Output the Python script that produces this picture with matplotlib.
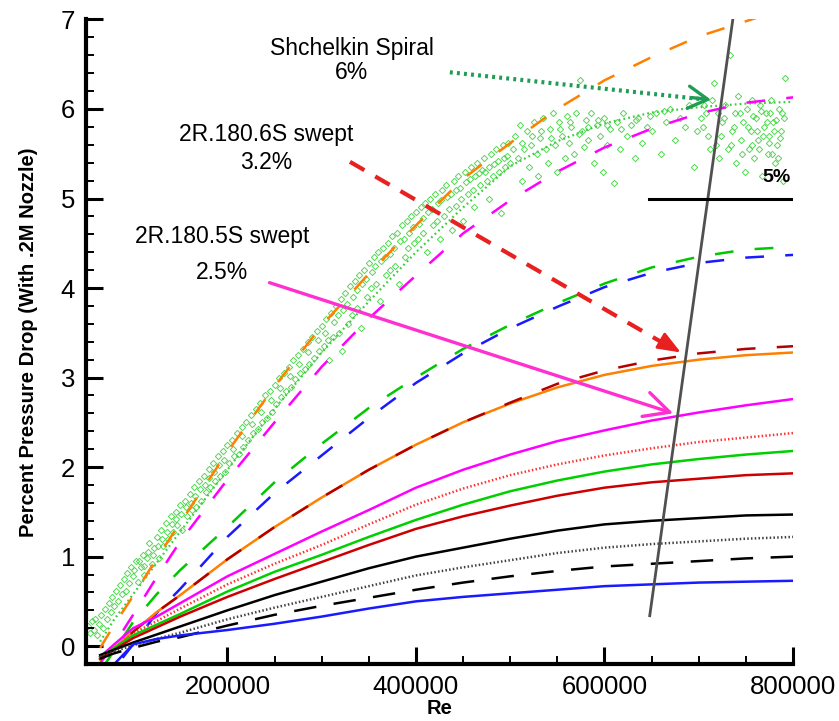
import numpy as np
import matplotlib
matplotlib.use('Agg')
import matplotlib.pyplot as plt
from matplotlib.ticker import MultipleLocator

plt.rcParams['font.family'] = ['Liberation Sans', 'DejaVu Sans']

re_pts = [65000, 80000, 100000, 125000, 150000, 200000, 250000, 300000, 350000,
          400000, 450000, 500000, 550000, 600000, 650000, 700000, 750000, 800000]

# solid / dotted curves (percent pressure drop)
orange_solid = [-0.15, -0.02, 0.16, 0.38, 0.57, 0.97, 1.33, 1.66, 1.97, 2.25, 2.50, 2.71, 2.89, 3.03, 3.13, 3.20, 3.25, 3.28]
darkred_dash = [-0.15, -0.02, 0.16, 0.38, 0.57, 0.97, 1.33, 1.66, 1.97, 2.25, 2.50, 2.72, 2.93, 3.08, 3.19, 3.27, 3.32, 3.35]
magenta_solid = [-0.12, 0.02, 0.20, 0.33, 0.48, 0.78, 1.03, 1.28, 1.52, 1.77, 1.97, 2.14, 2.29, 2.41, 2.52, 2.61, 2.69, 2.76]
red_dotted = [-0.12, -0.02, 0.14, 0.28, 0.42, 0.69, 0.92, 1.13, 1.36, 1.58, 1.76, 1.91, 2.03, 2.13, 2.21, 2.28, 2.33, 2.38]
green_solid = [-0.12, -0.02, 0.12, 0.24, 0.36, 0.61, 0.83, 1.02, 1.22, 1.41, 1.58, 1.73, 1.85, 1.95, 2.03, 2.09, 2.14, 2.18]
red_solid = [-0.14, -0.04, 0.09, 0.21, 0.33, 0.55, 0.75, 0.94, 1.13, 1.31, 1.45, 1.57, 1.68, 1.77, 1.83, 1.87, 1.91, 1.93]
black_solid = [-0.10, -0.04, 0.04, 0.13, 0.22, 0.40, 0.57, 0.72, 0.87, 1.00, 1.10, 1.20, 1.29, 1.36, 1.40, 1.43, 1.46, 1.47]
gray_dotted = [-0.12, -0.06, 0.01, 0.08, 0.15, 0.30, 0.43, 0.55, 0.67, 0.79, 0.88, 0.96, 1.04, 1.10, 1.14, 1.17, 1.20, 1.22]
black_dash = [-0.14, -0.08, -0.02, 0.05, 0.10, 0.23, 0.35, 0.45, 0.54, 0.63, 0.71, 0.78, 0.84, 0.89, 0.92, 0.95, 0.98, 1.00]
blue_solid = [-0.45, -0.20, 0.02, 0.08, 0.12, 0.18, 0.25, 0.33, 0.42, 0.50, 0.55, 0.59, 0.63, 0.67, 0.69, 0.71, 0.72, 0.73]

# upper dashed curves
orange_dash = [-0.02, 0.24, 0.56, 0.98, 1.38, 2.17, 2.90, 3.58, 4.16, 4.70, 5.22, 5.62, 6.00, 6.32, 6.58, 6.81, 6.98, 7.15]
magenta_dash = [-0.19, 0.02, 0.35, 0.77, 1.17, 1.86, 2.50, 3.12, 3.66, 4.14, 4.61, 4.98, 5.30, 5.57, 5.78, 5.95, 6.07, 6.13]
green_dash = [-0.28, -0.05, 0.27, 0.58, 0.85, 1.33, 1.83, 2.26, 2.66, 3.00, 3.32, 3.59, 3.83, 4.05, 4.23, 4.35, 4.43, 4.46]
blue_dash = [-0.50, -0.25, 0.02, 0.37, 0.64, 1.22, 1.71, 2.13, 2.55, 2.94, 3.27, 3.55, 3.79, 4.01, 4.17, 4.28, 4.34, 4.37]
spiral_fit = [0.05, 0.30, 0.58, 0.93, 1.28, 1.97, 2.65, 3.28, 3.85, 4.40, 4.90, 5.36, 5.64, 5.84, 5.96, 6.02, 6.06, 6.08]

# Shchelkin spiral measurements (Re in thousands, percent drop)
spiral_re_k = [52, 54, 56, 58, 60, 62, 64, 66, 68, 70, 72, 74, 76, 78, 80, 82, 84, 86, 88, 90, 92, 94, 96, 98, 100,
               103, 105, 108, 110, 112, 115, 117, 120, 122, 125, 127, 130, 132, 135, 137, 140, 142, 145, 147, 150,
               152, 155, 157, 160, 162, 165, 167, 170, 172, 175, 177, 180, 182, 185, 187, 190, 192, 195, 197, 200,
               202, 205, 207, 210, 212, 215, 217, 220, 222, 225, 227, 230, 232, 235, 237, 240, 242, 245, 247, 250,
               252, 255, 257, 260, 262, 265, 267, 270, 272, 275, 277, 280, 282, 285, 287, 290, 292, 295, 297, 300,
               302, 305, 308, 310, 312, 315, 318, 320, 322, 325, 328, 330, 332, 335, 338, 340, 342, 345, 348, 350,
               352, 355, 358, 360, 362, 365, 368, 370, 372, 375, 378, 380, 382, 385, 388, 390, 392, 395, 398, 400,
               402, 405, 408, 410, 412, 415, 418, 420, 422, 425, 428, 430, 432, 435, 438, 440, 442, 445, 448, 450,
               452, 455, 458, 460, 462, 465, 468, 470, 472, 475, 478, 480, 482, 485, 488, 490, 492, 495, 498, 500,
               505, 508, 510, 512, 515, 518, 520, 522, 525, 528, 530, 532, 535, 538, 540, 542, 545, 548, 550, 552,
               555, 558, 560, 562, 565, 568, 570, 574, 576, 578, 580, 583, 586, 589, 592, 595, 598, 600, 603, 606,
               610, 613, 616, 620, 624, 628, 632, 636, 640, 645, 650, 655, 660, 665, 670, 675, 680, 685, 690, 695,
               698, 702, 706, 710, 714, 716, 718, 720, 722, 725, 728, 731, 733, 735, 738, 740, 742, 745, 747, 749,
               751, 753, 755, 757, 759, 761, 763, 765, 767, 769, 771, 773, 775, 777, 779, 781, 783, 785, 787, 789,
               790, 792,
               101, 106, 111, 116, 121, 126, 131, 136, 141, 146, 151, 156, 161, 166, 171, 176, 181, 186, 191, 196,
               206, 216, 226, 236, 246, 256, 266, 276, 286, 296,
               303, 307, 313, 317, 323, 327, 333, 337, 343, 347, 353, 357, 363, 367, 373, 377, 383, 387, 393, 397,
               403, 407, 413, 417, 423, 427, 433, 437, 443, 447, 453, 457, 463, 467, 473, 477, 483, 487, 493, 497,
               503, 513, 523, 533, 543, 553, 563, 573, 583, 593, 603, 618, 633, 648, 663,
               704, 708, 712, 724, 727, 734, 737, 744, 746, 752, 756, 758, 762, 764, 766, 768, 772, 774, 776, 778,
               780, 782, 784, 786, 788]
spiral_dp = [0.22, 0.15, 0.28, 0.18, 0.30, 0.12, 0.25, 0.35, 0.20, 0.42, 0.30, 0.48, 0.38, 0.55, 0.45, 0.62, 0.50, 0.68, 0.58, 0.75, 0.62, 0.82, 0.70, 0.88, 0.78,
             0.95, 0.72, 0.88, 1.02, 0.80, 0.98, 1.15, 0.92, 1.10, 1.22, 0.98, 1.30, 1.12, 1.38, 1.20, 1.45, 1.28, 1.50, 1.35, 1.58,
             1.30, 1.62, 1.45, 1.70, 1.52, 1.78, 1.55, 1.85, 1.62, 1.90, 1.72, 1.98, 1.78, 2.05, 1.85, 2.12, 1.90, 2.18, 1.95, 2.25,
             2.05, 2.30, 2.12, 2.38, 2.15, 2.45, 2.22, 2.50, 2.30, 2.58, 2.38, 2.65, 2.42, 2.72, 2.50, 2.80, 2.55, 2.85, 2.62, 2.92,
             2.70, 3.00, 2.78, 3.05, 2.85, 3.12, 2.90, 3.20, 2.98, 3.25, 3.05, 3.32, 3.10, 3.40, 3.15, 3.45, 3.22, 3.52, 3.30, 3.58,
             3.35, 3.65, 3.20, 3.72, 3.45, 3.80, 3.50, 3.88, 3.30, 3.95, 3.60, 4.02, 3.70, 4.08, 3.78, 4.15, 3.55, 4.20, 3.90, 4.28,
             4.00, 4.35, 4.05, 4.40, 3.85, 4.45, 4.15, 4.50, 4.20, 4.58, 4.25, 4.62, 4.05, 4.70, 4.35, 4.75, 4.45, 4.80, 4.50, 4.85,
             4.55, 4.90, 4.62, 4.95, 4.40, 5.00, 4.70, 5.05, 4.75, 4.55, 5.10, 4.80, 5.15, 4.88, 4.65, 5.20, 4.92, 5.25, 5.00, 4.75,
             5.30, 5.05, 5.35, 5.10, 4.90, 5.40, 5.15, 5.32, 5.45, 5.20, 5.00, 5.50, 5.25, 5.55, 5.30, 4.84, 5.60, 5.35, 5.62, 5.40,
             5.70, 5.45, 5.82, 5.20, 5.55, 5.75, 5.35, 5.60, 5.85, 5.50, 5.25, 5.68, 5.90, 5.55, 5.40, 5.78, 5.95, 5.60, 5.30, 5.85,
             5.70, 5.45, 5.92, 5.62, 5.80, 5.50, 5.95, 6.32, 5.75, 5.58, 5.88, 5.65, 5.95, 5.40, 5.82, 5.70, 5.30, 5.90, 5.60, 5.78,
             5.17, 5.85, 5.55, 5.95, 5.70, 5.82, 5.45, 5.90, 5.62, 5.80, 5.75, 5.95, 5.50, 5.85, 6.00, 5.65, 5.90, 5.80, 6.05, 5.35,
             5.75, 5.90, 6.05, 5.70, 6.10, 6.29, 5.60, 5.95, 5.45, 5.85, 6.05, 5.55, 6.60, 5.75, 5.95, 5.40, 6.15, 5.65, 5.85, 5.30,
             6.00, 5.55, 5.75, 6.10, 5.45, 5.90, 5.65, 6.05, 5.25, 5.80, 5.95, 5.50, 5.70, 6.10, 5.85, 5.40, 5.60, 6.00, 5.75, 5.20,
             5.90, 6.35,
             0.85, 0.95, 0.90, 1.05, 1.02, 1.12, 1.20, 1.28, 1.36, 1.42, 1.48, 1.55, 1.60, 1.68, 1.75, 1.80, 1.88, 1.95, 2.02, 2.08,
             2.20, 2.35, 2.48, 2.62, 2.75, 2.88, 3.02, 3.15, 3.28, 3.42,
             3.50, 3.42, 3.62, 3.70, 3.75, 3.82, 3.90, 3.98, 4.05, 4.10, 4.18, 4.25, 4.30, 4.35, 4.38, 4.45, 4.52, 4.55, 4.62, 4.68,
             4.72, 4.78, 4.85, 4.88, 4.95, 4.98, 5.02, 5.05, 5.10, 5.12, 5.18, 5.22, 5.25, 5.28, 5.30, 5.35, 5.38, 5.42, 5.45, 5.48,
             5.55, 5.62, 5.70, 5.75, 5.68, 5.78, 5.85, 5.72, 5.80, 5.88, 5.82, 5.78, 5.88, 5.92, 5.98,
             5.80, 5.95, 5.55, 5.70, 5.90, 5.60, 5.80, 5.95, 5.50, 5.80, 5.60, 5.92, 5.75, 5.55, 5.98, 5.70, 5.85, 5.62, 5.95, 5.50,
             5.75, 5.88, 5.45, 5.68, 5.95]

spiral_re = np.array(spiral_re_k) * 1000

fig = plt.figure(figsize=(8.39, 7.21), dpi=100)
ax = fig.add_axes([0.1025, 0.079, 0.8427, 0.894])

lw = 1.8
longdash = (0, (7.5, 8.5))
fine_dot = (0, (0.6, 0.9))

ax.plot(spiral_re, spiral_dp, linestyle='none', marker='D', markersize=3.2,
        markerfacecolor='none', markeredgecolor='#55d855', markeredgewidth=0.7, zorder=1)
ax.plot(re_pts, spiral_fit, color='#3ccc3c', lw=1.6, linestyle=(0, (0.8, 1.4)), zorder=2)

ax.plot(re_pts, orange_dash, color='#ff8000', lw=lw, linestyle=longdash)
ax.plot(re_pts, magenta_dash, color='#ff00ff', lw=lw, linestyle=longdash)
ax.plot(re_pts, green_dash, color='#00c800', lw=lw, linestyle=longdash)
ax.plot(re_pts, blue_dash, color='#1a1aff', lw=lw, linestyle=longdash)

ax.plot(re_pts, orange_solid, color='#ff8000', lw=lw)
ax.plot(re_pts, darkred_dash, color='#b40000', lw=lw, linestyle=longdash)
ax.plot(re_pts, magenta_solid, color='#ff00ff', lw=lw)
ax.plot(re_pts, red_dotted, color='#ff3030', lw=lw, linestyle=fine_dot)
ax.plot(re_pts, green_solid, color='#00d000', lw=lw)
ax.plot(re_pts, red_solid, color='#cc0000', lw=lw)
ax.plot(re_pts, black_solid, color='black', lw=lw)
ax.plot(re_pts, gray_dotted, color='#404040', lw=lw, linestyle=fine_dot)
ax.plot(re_pts, black_dash, color='black', lw=lw, linestyle=(0, (9, 7)))
ax.plot(re_pts, blue_solid, color='#1a1aff', lw=lw)

# 5% reference marks
ax.plot([736000, 648000], [6.99, 0.34], color='#505050', lw=2.0, zorder=5)
ax.plot([647000, 800000], [5.0, 5.0], color='black', lw=2.2, zorder=5)
ax.text(782000, 5.24, '5%', ha='center', va='center', fontsize=14, fontweight='bold')

# labels with arrows
tsize = 16.5
ax.text(332000, 6.68, 'Shchelkin Spiral', ha='center', va='center', fontsize=tsize)
ax.text(332000, 6.41, '6%', ha='center', va='center', fontsize=tsize)
ax.text(241500, 5.71, '2R.180.6S swept', ha='center', va='center', fontsize=tsize)
ax.text(241500, 5.40, '3.2%', ha='center', va='center', fontsize=tsize)
ax.text(194700, 4.58, '2R.180.5S swept', ha='center', va='center', fontsize=tsize)
ax.text(194700, 4.17, '2.5%', ha='center', va='center', fontsize=tsize)

# green dotted arrow
ax.plot([436000, 712000], [6.41, 6.10], color='#1f9d55', lw=3.0, linestyle=(0, (0.7, 1.0)), zorder=6)
ax.annotate('', xy=(716000, 6.10), xytext=(690000, 6.13),
            arrowprops=dict(arrowstyle='->,head_length=0.7,head_width=0.4', color='#1f9d55', lw=2.4,
                            mutation_scale=20), zorder=6)
# red dashed arrow
ax.plot([330000, 668000], [5.41, 3.35], color='#e82020', lw=3.0, linestyle=(0, (4, 3)), zorder=6)
ax.annotate('', xy=(681000, 3.28), xytext=(660000, 3.41),
            arrowprops=dict(arrowstyle='-|>,head_length=1.4,head_width=0.55', color='#e82020', lw=2.0,
                            mutation_scale=10, shrinkA=0, shrinkB=0), zorder=6)
# magenta arrow
ax.annotate('', xy=(673000, 2.60), xytext=(244700, 4.06),
            arrowprops=dict(arrowstyle='->,head_length=0.9,head_width=0.45', color='#ff30d0', lw=2.4,
                            mutation_scale=20, shrinkA=0, shrinkB=0), zorder=6)

ax.set_xlim(50000, 800000)
ax.set_ylim(-0.2, 7)
ax.xaxis.set_major_locator(MultipleLocator(200000))
ax.xaxis.set_minor_locator(MultipleLocator(50000))
ax.yaxis.set_major_locator(MultipleLocator(1))
ax.yaxis.set_minor_locator(MultipleLocator(0.2))
ax.tick_params(which='major', direction='in', length=12, width=2.2, labelsize=18.5, pad=8)
ax.tick_params(which='minor', direction='in', length=6, width=1.4)
ax.tick_params(top=False, right=False)
ax.spines['top'].set_visible(False)
ax.spines['right'].set_visible(False)
ax.spines['left'].set_linewidth(3)
ax.spines['bottom'].set_linewidth(3)

ax.set_xlabel('Re', fontsize=14.5, fontweight='bold', labelpad=0)
ax.set_ylabel('Percent Pressure Drop (With .2M Nozzle)', fontsize=14.5, fontweight='bold', labelpad=16)

fig.savefig('out.png', dpi=100)
